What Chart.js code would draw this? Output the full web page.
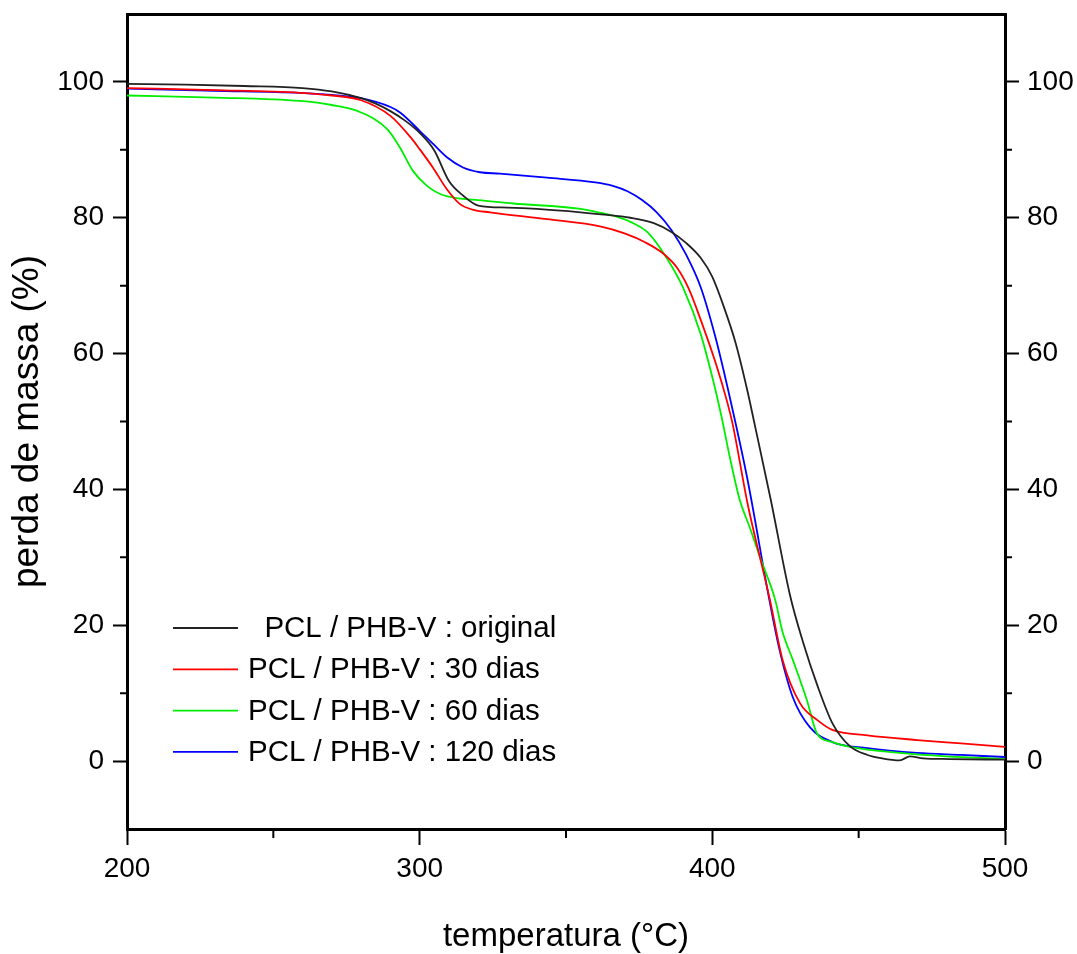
<!DOCTYPE html>
<html>
<head>
<meta charset="utf-8">
<script src="https://cdn.jsdelivr.net/npm/chart.js@4/dist/chart.umd.min.js"></script>
<style>
  html, body { margin: 0; padding: 0; background: #fff; }
  #wrap { width: 1077px; height: 954px; }
</style>
</head>
<body>
<div id="wrap"><canvas id="chart" width="1077" height="954"></canvas></div>
<script>
// ====== data ======
const tempOriginal = [200, 220, 240, 260, 270, 280, 285, 290, 295, 300, 305, 310, 315, 320, 330, 340, 355, 362, 372, 380, 386, 391, 396, 400, 404, 408, 412, 414.5, 420, 426.5, 431, 436, 441, 447, 453, 458, 464, 467.5, 472, 481, 500];
const massOriginal = [99.7, 99.6, 99.4, 99.1, 98.6, 97.6, 96.8, 95.7, 94.3, 92.5, 89.9, 85.4, 83.2, 81.8, 81.5, 81.3, 80.8, 80.5, 80.0, 79.2, 77.9, 76.3, 74.1, 71.3, 66.8, 61.5, 54.5, 49.5, 38.4, 24.5, 17.5, 11.0, 5.6, 2.2, 0.9, 0.4, 0.1, 0.7, 0.4, 0.3, 0.2];

const temp30 = [200, 230, 259, 270, 280, 290, 297, 300, 304.5, 309.3, 313.8, 318, 324, 343.5, 362, 370, 377, 383, 388, 392, 396, 401.6, 405, 407, 412, 419.7, 424, 430, 436, 441, 453, 470, 485, 500];
const mass30 = [99.1, 98.8, 98.4, 98.0, 97.3, 95.0, 91.8, 90.1, 87.4, 84.2, 82.0, 81.2, 80.8, 79.8, 78.7, 77.7, 76.4, 74.8, 72.6, 69.5, 65.0, 58.0, 53.0, 49.5, 38.0, 23.7, 14.9, 8.5, 6.0, 4.6, 3.8, 3.1, 2.6, 2.1];

const temp60 = [200, 230, 259, 270, 280, 289, 293.3, 297.7, 302.5, 307, 314, 320, 332, 355, 362, 367, 372, 378, 384.5, 390, 396, 400.3, 403, 406, 409.4, 412.8, 416.3, 421.5, 424, 427.5, 432.3, 435.7, 441, 447, 464, 480, 500];
const mass60 = [98.0, 97.7, 97.2, 96.6, 95.5, 93.0, 90.3, 86.9, 84.7, 83.5, 82.8, 82.6, 82.1, 81.3, 80.7, 80.2, 79.4, 77.8, 74.0, 69.7, 62.9, 56.0, 51.0, 44.7, 38.4, 34.4, 30.0, 23.7, 19.0, 14.9, 9.0, 4.1, 2.8, 2.1, 1.2, 0.7, 0.3];

const temp120 = [200, 230, 259, 270, 280, 290, 293.3, 300, 304.5, 309.3, 314.8, 320.6, 327.4, 343.5, 360, 366, 371, 376, 381, 386, 391, 396, 401, 406, 412, 419.5, 423, 427.5, 433.3, 441, 453, 470, 485, 500];
const mass120 = [99.0, 98.7, 98.4, 98.1, 97.6, 96.3, 95.5, 92.8, 90.9, 88.9, 87.4, 86.7, 86.5, 85.9, 85.2, 84.7, 83.9, 82.6, 80.8, 78.2, 74.6, 69.8, 62.5, 53.5, 41.5, 23.7, 16.3, 9.4, 5.0, 2.8, 1.9, 1.2, 0.9, 0.6];

const seriesLabels = ["  PCL / PHB-V : original", "PCL / PHB-V : 30 dias", "PCL / PHB-V : 60 dias", "PCL / PHB-V : 120 dias"];
const xTicks = [200, 300, 400, 500];
const xMinorTicks = [250, 350, 450];
const yTicks = [0, 20, 40, 60, 80, 100];
const yMinorTicks = [10, 30, 50, 70, 90];

// ====== helpers ======
const FONT = "'Liberation Sans', Arial, sans-serif";
const toPoints = (xs, ys) => xs.map((x, i) => ({ x, y: ys[i] }));

function series(label, xs, ys, color) {
  return {
    label,
    data: toPoints(xs, ys),
    borderColor: color,
    backgroundColor: color,
    borderWidth: 1.8,
    pointRadius: 0,
    fill: false,
    cubicInterpolationMode: "monotone"
  };
}

// small ticks between the labelled ones
const minorTicks = {
  id: "minorTicks",
  afterDraw(chart) {
    const { ctx, scales } = chart;
    ctx.save();
    ctx.strokeStyle = "#000";
    ctx.lineWidth = 2;
    ctx.beginPath();
    xMinorTicks.forEach(v => {
      const px = scales.x.getPixelForValue(v);
      ctx.moveTo(px, scales.x.top);
      ctx.lineTo(px, scales.x.top + 9);
    });
    yMinorTicks.forEach(v => {
      const py = scales.y.getPixelForValue(v);
      ctx.moveTo(scales.y.right - 7, py);
      ctx.lineTo(scales.y.right, py);
      ctx.moveTo(scales.y2.left, py);
      ctx.lineTo(scales.y2.left + 7, py);
    });
    ctx.stroke();
    ctx.restore();
  }
};

// legend sitting inside the plot, bottom left
const insideLegend = {
  id: "insideLegend",
  afterDraw(chart) {
    const { ctx, chartArea } = chart;
    ctx.save();
    ctx.font = "29.5px " + FONT;
    ctx.textBaseline = "middle";
    ctx.textAlign = "left";
    chart.data.datasets.forEach((ds, i) => {
      const y = chartArea.bottom - 201 + i * 41.3;
      ctx.strokeStyle = ds.borderColor;
      ctx.lineWidth = 1.8;
      ctx.beginPath();
      ctx.moveTo(chartArea.left + 46, y);
      ctx.lineTo(chartArea.left + 111, y);
      ctx.stroke();
      ctx.fillStyle = "#000";
      ctx.fillText(ds.label, chartArea.left + 121, y + 1);
    });
    ctx.restore();
  }
};

const yAxisBase = {
  type: "linear",
  min: -10,
  max: 110,
  afterBuildTicks: s => { s.ticks = yTicks.map(v => ({ value: v })); },
  grid: { drawOnChartArea: false, tickLength: 14, tickColor: "#000", tickWidth: 2 },
  border: { color: "#000", width: 3 },
  ticks: { color: "#000", font: { family: FONT, size: 28 }, padding: 9 }
};

// ====== chart ======
new Chart(document.getElementById("chart"), {
  type: "line",
  data: {
    datasets: [
      series(seriesLabels[0], tempOriginal, massOriginal, "#222222"),
      series(seriesLabels[1], temp30, mass30, "#ff0000"),
      series(seriesLabels[2], temp60, mass60, "#00ee00"),
      series(seriesLabels[3], temp120, mass120, "#0000ff")
    ]
  },
  options: {
    responsive: false,
    animation: false,
    layout: { padding: 0 },
    plugins: { legend: { display: false }, tooltip: { enabled: false } },
    scales: {
      x: {
        type: "linear",
        position: "bottom",
        min: 200,
        max: 500,
        afterBuildTicks: s => { s.ticks = xTicks.map(v => ({ value: v })); },
        afterFit: s => { s.height = 125; s.paddingLeft = 0; s.paddingRight = 0; },
        grid: { drawOnChartArea: false, tickLength: 16, tickColor: "#000", tickWidth: 2 },
        border: { color: "#000", width: 3 },
        ticks: { color: "#000", font: { family: FONT, size: 28 }, padding: 7, maxRotation: 0 },
        title: {
          display: true,
          text: "temperatura (°C)",
          color: "#000",
          font: { family: FONT, size: 33, lineHeight: 1 },
          padding: { top: 0, bottom: 1 }
        }
      },
      x2: {
        type: "linear",
        position: "top",
        min: 200,
        max: 500,
        afterFit: s => { s.height = 14; s.paddingLeft = 0; s.paddingRight = 0; },
        grid: { drawOnChartArea: false, drawTicks: false },
        border: { color: "#000", width: 3 },
        ticks: { display: false }
      },
      y: Object.assign({}, yAxisBase, {
        position: "left",
        afterFit: s => { s.width = 127; s.paddingTop = 0; s.paddingBottom = 0; },
        title: {
          display: true,
          text: "perda de massa (%)",
          color: "#000",
          font: { family: FONT, size: 37, lineHeight: 1 },
          padding: { top: 9, bottom: 0 }
        }
      }),
      y2: Object.assign({}, yAxisBase, {
        position: "right",
        afterFit: s => { s.width = 72; s.paddingTop = 0; s.paddingBottom = 0; },
        ticks: { color: "#000", font: { family: FONT, size: 28 }, padding: 8 }
      })
    }
  },
  plugins: [minorTicks, insideLegend]
});
</script>
</body>
</html>
